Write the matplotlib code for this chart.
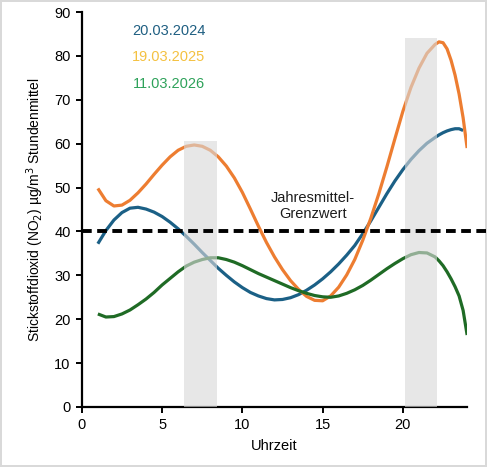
import matplotlib

matplotlib.use("Agg")
import matplotlib.pyplot as plt
from matplotlib.patches import Rectangle

# hourly NO2 means
hours = [1.0, 1.5, 2.0, 2.5, 3.0, 3.5, 4.0, 4.5, 5.0, 5.5, 6.0, 6.5, 7.0, 7.5,
         8.0, 8.5, 9.0, 9.5, 10.0, 10.5, 11.0, 11.5, 12.0, 12.5, 13.0, 13.5,
         14.0, 14.5, 15.0, 15.5, 16.0, 16.5, 17.0, 17.5, 18.0, 18.5, 19.0,
         19.5, 20.0, 20.5, 21.0, 21.5, 22.0, 22.25, 22.5, 22.75, 23.0, 23.25,
         23.5, 23.75, 24.0]

no2_2024 = [37.2, 40.2, 42.6, 44.3, 45.3, 45.5, 45.1, 44.4, 43.4, 42.1, 40.6,
            38.9, 37.1, 35.2, 33.4, 31.6, 30.0, 28.5, 27.2, 26.1, 25.3, 24.7,
            24.4, 24.5, 24.9, 25.6, 26.6, 27.8, 29.2, 30.8, 32.6, 34.6, 36.8,
            39.5, 42.4, 45.5, 48.6, 51.5, 54.1, 56.4, 58.4, 60.1, 61.4, 62.0,
            62.5, 62.9, 63.2, 63.4, 63.4, 63.0, None]

no2_2025 = [49.8, 47.0, 45.8, 46.0, 47.1, 48.8, 50.8, 53.0, 55.1, 57.0, 58.5,
            59.4, 59.7, 59.4, 58.5, 57.0, 54.9, 52.2, 48.9, 45.1, 41.2, 37.5,
            34.2, 31.3, 28.8, 26.8, 25.2, 24.3, 24.2, 25.3, 27.3, 30.1, 33.6,
            38.0, 43.0, 48.6, 54.7, 61.1, 67.4, 72.8, 77.2, 80.6, 82.6, 83.2,
            83.0, 81.6, 79.0, 75.6, 71.3, 65.9, 59.0]

no2_2026 = [21.2, 20.5, 20.6, 21.2, 22.1, 23.3, 24.6, 26.1, 27.8, 29.3, 30.8,
            32.1, 33.0, 33.6, 34.0, 34.0, 33.6, 33.0, 32.2, 31.3, 30.4, 29.6,
            28.8, 28.0, 27.2, 26.5, 25.9, 25.4, 25.1, 25.0, 25.3, 25.9, 26.7,
            27.7, 28.9, 30.2, 31.5, 32.7, 33.8, 34.7, 35.2, 35.1, 34.2, 33.3,
            32.2, 30.8, 29.2, 27.4, 25.3, 22.0, 16.4]

series_labels = ["20.03.2024", "19.03.2025", "11.03.2026"]
line_colors = ["#1b6086", "#ed7d31", "#1f6b25"]
label_colors = ["#1f5f82", "#f4c141", "#2ea25a"]

# rush-hour bands: start, end, top
bands_start = [6.38, 20.12]
bands_end = [8.43, 22.14]
bands_top = [60.6, 84.0]

limit_value = 40
limit_label = "Jahresmittel-\nGrenzwert"

plt.rcParams["font.family"] = ["Liberation Sans", "DejaVu Sans"]

fig = plt.figure(figsize=(4.87, 4.67), dpi=100)
fig.patch.set_edgecolor("#d9d9d9")
fig.patch.set_linewidth(1.5)
ax = fig.add_axes([0.168, 0.1285, 0.7912, 0.8458])

for vals, col in zip([no2_2024, no2_2025, no2_2026], line_colors):
    xs = [h for h, v in zip(hours, vals) if v is not None]
    ys = [v for v in vals if v is not None]
    ax.plot(xs, ys, color=col, lw=2.3, solid_capstyle="butt",
            solid_joinstyle="round", zorder=2)

# grey bands sit over the curves, so the lines show through faded
for x0, x1, top in zip(bands_start, bands_end, bands_top):
    ax.add_patch(Rectangle((x0, 0), x1 - x0, top, fc="#d9d9d9", ec="none",
                           alpha=0.62, zorder=3))

ax.plot([0, 25.2], [limit_value] * 2, color="black", lw=2.8,
        dashes=(2.5, 1.4), clip_on=False, zorder=4)
ax.text(14.4, 45.8, limit_label, ha="center", va="center", fontsize=10.5,
        color="#1c1c1c", linespacing=1.25)

for i, (lab, col) in enumerate(zip(series_labels, label_colors)):
    ax.text(5.4, 85.7 - 6.0 * i, lab, ha="center", va="center",
            fontsize=10.5, color=col)

ax.set_xlim(0, 24)
ax.set_ylim(0, 90)
ax.set_xticks([0, 5, 10, 15, 20])
ax.set_yticks(range(0, 91, 10))
for s in ("top", "right"):
    ax.spines[s].set_visible(False)
for s in ("left", "bottom"):
    ax.spines[s].set_linewidth(1.6)
ax.tick_params(direction="out", length=4, width=1.4, labelsize=10.5, pad=4)
ax.set_xlabel("Uhrzeit", fontsize=10.5, labelpad=5)
ax.set_ylabel(r"Stickstoffdioxid (NO$_2$) µg/m$^3$ Stundenmittel",
              fontsize=10, labelpad=6)

fig.savefig("out.png", dpi=100)
